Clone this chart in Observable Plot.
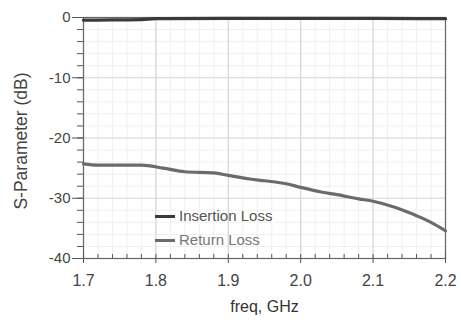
<!DOCTYPE html>
<html>
<head>
<meta charset="utf-8">
<script src="https://cdn.jsdelivr.net/npm/d3@7"></script>
<script src="https://cdn.jsdelivr.net/npm/@observablehq/plot@0.6"></script>
<style>
  html, body { margin: 0; padding: 0; background: #fff; }
  #wrap { position: relative; width: 461px; height: 320px; font-family: "Liberation Sans", Arial, sans-serif; }
  #wrap svg { display: block; }
  .leg { position: absolute; left: 155px; font-size: 15px; line-height: 18px; white-space: nowrap; }
  .leg span.sw { display: inline-block; width: 20px; height: 3px; vertical-align: middle; margin-right: 4px; position: relative; top: -1px; }
  .ylab { position: absolute; left: 22px; top: 141px; font-size: 17.5px; color: #444; white-space: nowrap;
          transform: translate(-50%, -50%) rotate(-90deg); line-height: 1; }
</style>
</head>
<body>
<div id="wrap"></div>
<script>
const seriesNames = ["Insertion Loss", "Return Loss"];
const seriesColors = ["#3a3a3a", "#6b6b6b"];

const freqIL = [1.70, 1.74, 1.78, 1.80, 1.90, 2.00, 2.10, 2.20];
const insertionLoss = [-0.45, -0.4, -0.35, -0.2, -0.15, -0.15, -0.15, -0.2];

const freqRL = [1.70, 1.72, 1.75, 1.78, 1.81, 1.84, 1.88, 1.90, 1.93, 1.95, 1.98, 2.00, 2.03, 2.05, 2.08, 2.10, 2.13, 2.16, 2.18, 2.20];
const returnLoss = [-24.3, -24.5, -24.5, -24.5, -25.0, -25.6, -25.8, -26.2, -26.8, -27.1, -27.6, -28.2, -29.0, -29.4, -30.1, -30.5, -31.5, -32.9, -34.0, -35.4];

const xMajor = [1.7, 1.8, 1.9, 2.0, 2.1, 2.2];
const xMinor = d3.range(0, 26).map(i => +(1.7 + i * 0.02).toFixed(2));
const yMajor = [0, -10, -20, -30, -40];
const yMinor = d3.range(0, 21).map(i => -2 * i);
const xTickLabels = ["1.7", "1.8", "1.9", "2.0", "2.1", "2.2"];

const xLabel = "freq, GHz";
const yLabel = "S-Parameter (dB)";

const ilData = freqIL.map((f, i) => ({f, v: insertionLoss[i]}));
const rlData = freqRL.map((f, i) => ({f, v: returnLoss[i]}));

const chart = Plot.plot({
  width: 461,
  height: 320,
  marginLeft: 83,
  marginRight: 16,
  marginTop: 17,
  marginBottom: 62,
  style: {fontFamily: "'Liberation Sans', Arial, sans-serif", background: "#fff", color: "#444"},
  x: {domain: [1.7, 2.2]},
  y: {domain: [-40, 0]},
  marks: [
    Plot.gridX(xMinor, {stroke: "#f0f0f0", strokeOpacity: 1}),
    Plot.gridY(yMinor, {stroke: "#f0f0f0", strokeOpacity: 1}),
    Plot.gridX(xMajor, {stroke: "#d8d8d8", strokeOpacity: 1, strokeWidth: 1.2}),
    Plot.gridY(yMajor, {stroke: "#d8d8d8", strokeOpacity: 1, strokeWidth: 1.2}),
    Plot.frame({stroke: "#666", strokeWidth: 1.2}),
    Plot.axisY(yMinor, {tickSize: 6, text: null, stroke: "#555", label: null}),
    Plot.axisY(yMajor, {tickSize: 11, tickPadding: 2, fontSize: 15, stroke: "#555", fill: "#444", label: null, tickFormat: d => String(d)}),
    Plot.axisX(xMinor, {tickSize: 4, dy: -4, text: null, stroke: "#555", label: null}),
    Plot.axisX(xMajor, {tickSize: 5, tickPadding: 11, fontSize: 16, stroke: "#555", fill: "#444", label: null, tickFormat: (d, i) => xTickLabels[i]}),
    Plot.line(rlData, {x: "f", y: "v", stroke: seriesColors[1], strokeWidth: 3.2, curve: "monotone-x"}),
    Plot.line(ilData, {x: "f", y: "v", stroke: seriesColors[0], strokeWidth: 3.2, curve: "monotone-x"}),
    Plot.text([xLabel], {frameAnchor: "bottom", dy: 53, fontSize: 16, fill: "#333"})
  ]
});
const wrap = document.getElementById("wrap");
wrap.appendChild(chart);

const yl = document.createElement("div");
yl.className = "ylab";
yl.textContent = yLabel;
wrap.appendChild(yl);

const legTops = [207, 231];
const legText = ["#555", "#777"];
seriesNames.forEach((n, i) => {
  const d = document.createElement("div");
  d.className = "leg";
  d.style.top = legTops[i] + "px";
  d.style.color = legText[i];
  d.innerHTML = `<span class="sw" style="background:${seriesColors[i]}"></span>${n}`;
  wrap.appendChild(d);
});
</script>
</body>
</html>
